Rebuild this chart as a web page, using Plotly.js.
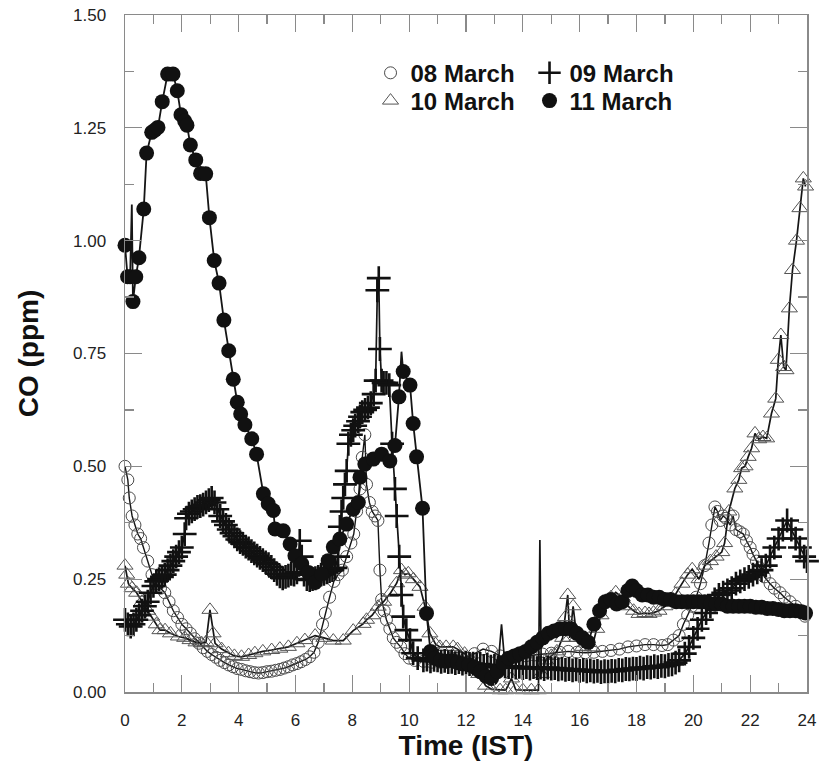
<!DOCTYPE html>
<html>
<head>
<meta charset="utf-8">
<script src="https://cdn.plot.ly/plotly-3.0.1.min.js"></script>
<style>html,body{margin:0;padding:0;background:#fff;}#chart{width:819px;height:768px;}</style>
</head>
<body>
<div id="chart"></div>
<script>
// ---- data (hours IST, CO ppm) ----
const seriesNames = ["08 March", "09 March", "10 March", "11 March"];
const xTickVals = [0, 2, 4, 6, 8, 10, 12, 14, 16, 18, 20, 22, 24];
const yTickVals = [0, 0.25, 0.5, 0.75, 1.0, 1.25, 1.5];

const t08 = [0.0,0.1,0.15,0.25,0.35,0.45,0.55,0.65,0.8,0.95,1.1,1.25,1.4,1.55,1.7,1.85,2.0,2.15,2.3,2.45,2.6,2.75,2.9,3.05,3.2,3.35,3.5,3.65,3.8,3.95,4.1,4.25,4.4,4.55,4.7,4.85,5.0,5.15,5.3,5.45,5.6,5.75,5.9,6.05,6.2,6.35,6.5,6.65,6.8,6.95,7.05,7.2,7.35,7.5,7.65,7.8,7.95,8.05,8.15,8.27,8.35,8.44,8.5,8.6,8.7,8.8,8.9,8.97,9.03,9.12,9.2,9.32,9.44,9.56,9.7,9.85,10.0,10.2,10.5,10.8,11.1,11.4,11.7,12.0,12.3,12.6,12.9,13.2,13.5,13.8,14.1,14.4,14.7,15.0,15.3,15.6,15.9,16.2,16.5,16.8,17.1,17.4,17.7,18.0,18.3,18.6,18.9,19.1,19.3,19.5,19.65,19.8,19.95,20.1,20.25,20.4,20.55,20.65,20.76,20.85,20.95,21.05,21.15,21.3,21.4,21.5,21.64,21.76,21.87,22.0,22.1,22.22,22.34,22.5,22.7,22.85,23.05,23.2,23.4,23.6,23.75,23.93];
const co08 = [0.50,0.47,0.43,0.39,0.37,0.35,0.34,0.32,0.29,0.26,0.24,0.23,0.22,0.20,0.18,0.165,0.15,0.14,0.13,0.118,0.108,0.098,0.09,0.083,0.077,0.07,0.065,0.06,0.056,0.052,0.05,0.047,0.045,0.043,0.042,0.043,0.045,0.046,0.048,0.05,0.053,0.056,0.06,0.063,0.067,0.072,0.078,0.088,0.11,0.15,0.175,0.21,0.245,0.26,0.27,0.30,0.33,0.35,0.40,0.45,0.52,0.57,0.46,0.42,0.40,0.39,0.38,0.27,0.205,0.18,0.16,0.14,0.12,0.11,0.10,0.085,0.075,0.07,0.068,0.066,0.066,0.068,0.07,0.075,0.085,0.095,0.09,0.08,0.075,0.078,0.08,0.082,0.084,0.086,0.088,0.09,0.088,0.087,0.088,0.09,0.092,0.095,0.10,0.102,0.105,0.105,0.103,0.105,0.115,0.125,0.15,0.17,0.19,0.21,0.24,0.28,0.33,0.37,0.41,0.40,0.38,0.39,0.385,0.37,0.39,0.36,0.355,0.35,0.335,0.32,0.305,0.29,0.275,0.255,0.24,0.23,0.22,0.21,0.20,0.19,0.18,0.168];

const t09 = [0.0,0.1,0.2,0.3,0.4,0.5,0.6,0.7,0.8,0.9,1.0,1.1,1.2,1.3,1.4,1.5,1.6,1.7,1.8,1.9,2.0,2.1,2.15,2.25,2.35,2.45,2.55,2.65,2.75,2.85,2.95,3.05,3.15,3.25,3.35,3.45,3.55,3.65,3.75,3.85,3.95,4.05,4.15,4.25,4.35,4.45,4.55,4.65,4.75,4.85,4.95,5.05,5.15,5.25,5.35,5.45,5.55,5.65,5.75,5.85,5.95,6.05,6.15,6.22,6.3,6.4,6.5,6.6,6.7,6.8,6.9,7.0,7.1,7.2,7.3,7.4,7.5,7.56,7.62,7.68,7.74,7.8,7.86,7.95,8.03,8.1,8.2,8.27,8.35,8.45,8.55,8.65,8.75,8.82,8.88,8.93,8.97,9.03,9.1,9.2,9.3,9.4,9.5,9.56,9.65,9.73,9.79,9.9,10.03,10.14,10.3,
  10.5,10.625,10.75,10.875,11.0,11.125,11.25,11.375,11.5,11.625,11.75,11.875,12.0,12.125,12.25,12.375,12.5,12.625,12.75,12.875,13.0,13.125,13.25,13.375,13.5,13.625,13.75,13.875,14.0,14.125,14.25,14.375,14.5,14.625,14.75,14.875,15.0,15.125,15.25,15.375,15.5,15.625,15.75,15.875,16.0,16.125,16.25,16.375,16.5,16.625,16.75,16.875,17.0,17.125,17.25,17.375,17.5,17.625,17.75,17.875,18.0,18.125,18.25,18.375,18.5,18.625,18.75,18.875,19.0,19.125,19.25,19.375,19.5,
  19.7,19.85,20.0,20.15,20.3,20.45,20.6,20.75,20.9,21.05,21.2,21.35,21.5,21.65,21.8,21.95,22.1,22.25,22.4,22.55,22.7,22.85,23.0,23.15,23.3,23.45,23.6,23.75,23.9,24.0];
const co09 = [0.16,0.15,0.145,0.15,0.16,0.17,0.18,0.19,0.20,0.22,0.235,0.245,0.25,0.255,0.26,0.27,0.28,0.29,0.30,0.31,0.32,0.35,0.385,0.395,0.40,0.405,0.41,0.412,0.415,0.42,0.425,0.43,0.42,0.405,0.39,0.378,0.37,0.36,0.352,0.345,0.338,0.332,0.328,0.322,0.318,0.312,0.307,0.302,0.297,0.292,0.287,0.283,0.277,0.27,0.262,0.256,0.252,0.255,0.258,0.262,0.26,0.265,0.335,0.30,0.26,0.25,0.248,0.25,0.252,0.255,0.26,0.262,0.265,0.268,0.27,0.275,0.30,0.366,0.40,0.43,0.46,0.49,0.55,0.57,0.58,0.59,0.60,0.61,0.62,0.625,0.63,0.64,0.66,0.69,0.89,0.917,0.76,0.69,0.685,0.685,0.68,0.55,0.45,0.39,0.30,0.215,0.167,0.137,0.115,0.086,0.075,
  0.070,0.072,0.068,0.071,0.070,0.067,0.069,0.066,0.067,0.064,0.066,0.063,0.065,0.062,0.063,0.060,0.062,0.058,0.060,0.056,0.058,0.055,0.15,0.057,0.055,0.057,0.054,0.056,0.053,0.055,0.052,0.055,0.053,0.054,0.051,0.054,0.052,0.053,0.050,0.052,0.049,0.051,0.048,0.050,0.047,0.049,0.046,0.048,0.045,0.047,0.044,0.046,0.045,0.047,0.046,0.049,0.048,0.051,0.050,0.052,0.051,0.054,0.052,0.055,0.054,0.057,0.055,0.058,0.057,0.060,0.061,0.065,0.070,
  0.085,0.10,0.12,0.14,0.16,0.175,0.19,0.205,0.215,0.22,0.225,0.23,0.24,0.245,0.25,0.255,0.26,0.265,0.27,0.28,0.30,0.32,0.34,0.36,0.38,0.36,0.34,0.32,0.30,0.29];

const t10 = [0.0,0.06,0.12,0.25,0.41,0.6,0.8,0.94,1.1,1.23,1.41,1.6,1.88,2.1,2.29,2.5,2.7,2.85,2.99,3.1,3.17,3.4,3.64,3.85,4.1,4.35,4.57,4.85,5.16,5.45,5.75,6.05,6.33,6.69,7.0,7.33,7.68,8.03,8.38,8.5,8.7,8.91,9.1,9.35,9.56,9.73,9.85,9.97,10.15,10.38,10.56,10.73,10.93,11.08,11.3,11.55,11.7,11.95,12.2,12.45,12.69,12.9,13.2,13.4,13.6,13.75,14.0,14.3,14.55,14.6,14.65,14.8,15.0,15.2,15.4,15.5,15.58,15.65,15.77,15.9,16.1,16.25,16.44,16.6,16.75,16.91,17.1,17.27,17.5,17.7,17.9,18.09,18.3,18.44,18.6,18.79,19.0,19.2,19.38,19.6,19.8,19.96,20.2,20.4,20.6,20.8,21.0,21.1,21.25,21.46,21.6,21.7,21.82,21.93,22.05,22.17,22.3,22.45,22.58,22.75,22.9,22.99,23.08,23.18,23.26,23.38,23.49,23.63,23.75,23.87,23.95];
const co10 = [0.28,0.26,0.24,0.23,0.22,0.20,0.18,0.167,0.15,0.137,0.137,0.13,0.123,0.12,0.115,0.11,0.108,0.11,0.182,0.13,0.108,0.095,0.086,0.08,0.078,0.082,0.086,0.09,0.093,0.096,0.10,0.108,0.115,0.125,0.12,0.114,0.114,0.136,0.151,0.16,0.17,0.189,0.20,0.22,0.241,0.27,0.26,0.263,0.25,0.233,0.189,0.13,0.106,0.10,0.10,0.10,0.095,0.085,0.07,0.04,0.014,0.006,0.004,0.004,0.03,0.005,0.004,0.004,0.004,0.337,0.04,0.07,0.08,0.09,0.12,0.166,0.215,0.12,0.19,0.12,0.10,0.11,0.099,0.14,0.17,0.202,0.21,0.221,0.21,0.19,0.18,0.173,0.175,0.173,0.176,0.18,0.19,0.205,0.217,0.24,0.26,0.272,0.25,0.28,0.29,0.30,0.31,0.33,0.40,0.451,0.47,0.496,0.50,0.521,0.54,0.573,0.56,0.565,0.562,0.617,0.65,0.736,0.791,0.72,0.713,0.85,0.935,1.00,1.072,1.138,1.12];

const t11 = [0.0,0.09,0.18,0.24,0.28,0.38,0.49,0.66,0.76,0.94,1.05,1.16,1.31,1.5,1.69,1.84,1.97,2.1,2.18,2.3,2.49,2.66,2.84,2.97,3.14,3.31,3.48,3.65,3.81,3.95,4.07,4.22,4.46,4.63,4.87,5.04,5.22,5.28,5.57,5.81,5.98,6.22,6.45,6.69,6.92,7.15,7.33,7.56,7.8,8.03,8.21,8.27,8.44,8.74,9.03,9.32,9.5,9.64,9.73,9.79,10.03,10.14,10.26,10.47,10.61,10.75,10.9,11.1,11.3,11.5,11.7,11.9,12.1,12.3,12.5,12.7,12.9,13.1,13.3,13.5,13.7,13.9,14.1,14.3,14.5,14.7,14.9,15.1,15.3,15.5,15.7,15.9,16.1,16.3,16.5,16.7,16.9,17.1,17.3,17.5,17.7,17.85,18.0,18.2,18.4,18.6,18.8,19.0,19.2,19.4,19.6,19.8,20.0,20.2,20.4,20.6,20.8,21.0,21.2,21.4,21.6,21.8,22.0,22.2,22.4,22.6,22.8,23.0,23.2,23.4,23.6,23.8,23.95];
const co11 = [0.99,0.92,0.92,1.08,0.865,0.92,0.962,1.07,1.194,1.24,1.245,1.251,1.308,1.369,1.369,1.332,1.279,1.265,1.256,1.212,1.179,1.149,1.148,1.051,0.956,0.906,0.824,0.756,0.693,0.642,0.616,0.592,0.561,0.527,0.439,0.417,0.402,0.361,0.357,0.328,0.302,0.284,0.265,0.243,0.261,0.291,0.321,0.339,0.372,0.405,0.42,0.476,0.505,0.516,0.527,0.512,0.546,0.654,0.754,0.71,0.68,0.595,0.521,0.407,0.174,0.09,0.075,0.07,0.068,0.07,0.065,0.062,0.06,0.055,0.045,0.035,0.03,0.045,0.065,0.075,0.08,0.085,0.09,0.10,0.11,0.12,0.13,0.135,0.14,0.14,0.14,0.13,0.12,0.11,0.15,0.18,0.20,0.205,0.195,0.20,0.225,0.235,0.225,0.215,0.215,0.21,0.21,0.205,0.205,0.20,0.20,0.20,0.20,0.20,0.20,0.195,0.195,0.195,0.19,0.19,0.19,0.19,0.19,0.188,0.188,0.185,0.185,0.183,0.18,0.18,0.18,0.178,0.175];

// readings that are only line spikes in the original (drawn without a symbol)
const spikes09 = [13.25];
const spikes10 = [14.6];
const spikes11 = [0.24, 9.73];

// ---- styles ----
const sizesFor = (t, spikes, s) => t.map(v => spikes.includes(v) ? 0 : s);
const mk08 = {symbol: 'circle-open', size: 12, color: '#4a4a4a', opacity: 1, line: {width: 1, color: '#4a4a4a'}};
const mk09 = {symbol: 'cross-thin', size: 17, color: '#111', opacity: 1, line: {width: 2.6, color: '#111'}};
const mk10 = {symbol: 'triangle-up-open', size: 14, color: '#555', opacity: 1, line: {width: 1, color: '#555'}};
const mk11 = {symbol: 'circle', size: 15, color: '#111', opacity: 1, line: {width: 0}};

const traces = [
  {x: t08, y: co08, mode: 'lines+markers', line: {color: '#151515', width: 1.4}, marker: mk08, showlegend: false, cliponaxis: false},
  {x: t10, y: co10, mode: 'lines+markers', line: {color: '#151515', width: 1.7},
   marker: Object.assign({}, mk10, {size: sizesFor(t10, spikes10, 14)}), showlegend: false, cliponaxis: false},
  {x: t09, y: co09, mode: 'lines+markers', line: {color: '#151515', width: 1.7},
   marker: Object.assign({}, mk09, {size: sizesFor(t09, spikes09, 17)}), showlegend: false, cliponaxis: false},
  {x: t11, y: co11, mode: 'lines+markers', line: {color: '#151515', width: 1.8},
   marker: Object.assign({}, mk11, {size: sizesFor(t11, spikes11, 15)}), showlegend: false, cliponaxis: false},
  // legend entries
  {x: [null], y: [null], mode: 'markers', name: seriesNames[0], marker: mk08, legend: 'legend'},
  {x: [null], y: [null], mode: 'markers', name: seriesNames[1], marker: mk09, legend: 'legend'},
  {x: [null], y: [null], mode: 'markers', name: seriesNames[2], marker: mk10, legend: 'legend2'},
  {x: [null], y: [null], mode: 'markers', name: seriesNames[3], marker: mk11, legend: 'legend2'}
];

const tickFont = {family: 'Liberation Sans, Arial, sans-serif', size: 17, color: '#222'};
const titleFont = {family: 'Liberation Sans, Arial, sans-serif', size: 28, color: '#111', weight: 'bold'};
const legFont = {family: 'Liberation Sans, Arial, sans-serif', size: 24, color: '#111', weight: 'bold'};
const AX = '#8a8a8a';

const legendBase = {orientation: 'h', xanchor: 'left', yanchor: 'middle', bgcolor: 'rgba(0,0,0,0)',
  borderwidth: 0, font: legFont, entrywidth: 114, entrywidthmode: 'pixels', itemclick: false, tracegroupgap: 0};

const layout = {
  width: 819, height: 768,
  margin: {l: 125, r: 12, t: 15, b: 76},
  paper_bgcolor: '#fff', plot_bgcolor: '#fff',
  xaxis: {
    range: [0, 24], tickvals: xTickVals, ticks: 'inside', ticklen: 17, tickwidth: 1.3, tickcolor: AX,
    minor: {dtick: 1, ticks: 'inside', ticklen: 9, tickwidth: 1.3, tickcolor: AX},
    showline: true, linecolor: AX, linewidth: 1.5, mirror: 'ticks', showgrid: false, zeroline: false,
    tickfont: tickFont, ticklabelstandoff: 12,
    title: {text: 'Time (IST)', font: titleFont, standoff: 4}, automargin: false
  },
  yaxis: {
    range: [0, 1.5], tickvals: yTickVals, tickformat: '.2f', ticks: 'inside', ticklen: 17, tickwidth: 1.3, tickcolor: AX,
    minor: {dtick: 0.125, ticks: 'inside', ticklen: 9, tickwidth: 1.3, tickcolor: AX},
    showline: true, linecolor: AX, linewidth: 1.5, mirror: 'ticks', showgrid: false, zeroline: false,
    tickfont: tickFont, ticklabelstandoff: 14,
    title: {text: 'CO (ppm)', font: titleFont, standoff: 26}, automargin: false
  },
  legend: Object.assign({}, legendBase, {x: 0.36, y: 0.914}),
  legend2: Object.assign({}, legendBase, {x: 0.36, y: 0.873}),
  showlegend: true
};

Plotly.newPlot('chart', traces, layout, {displayModeBar: false, staticPlot: true});
</script>
</body>
</html>
